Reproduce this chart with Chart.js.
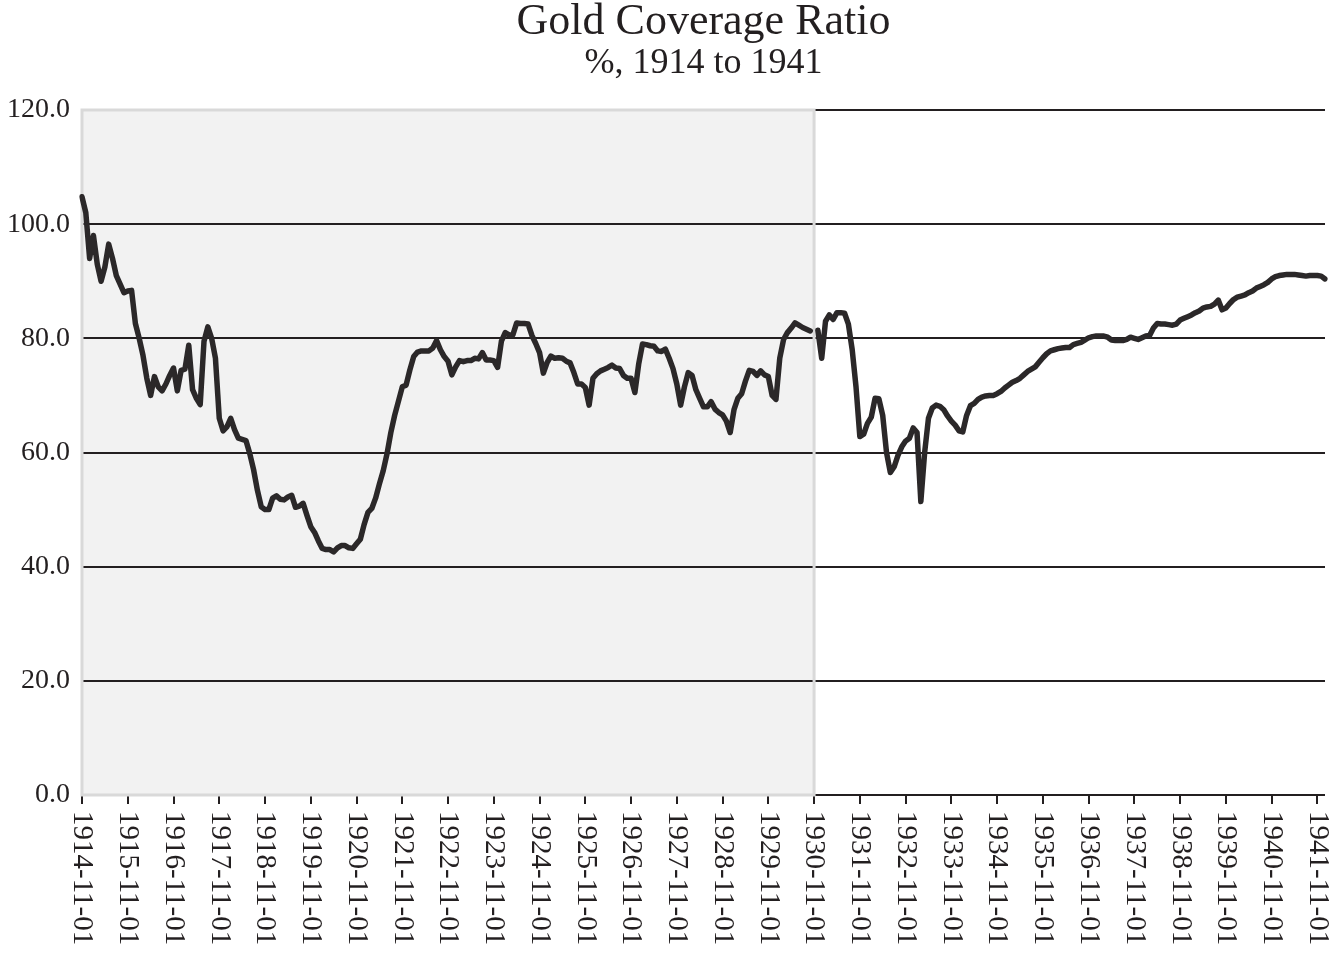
<!DOCTYPE html>
<html lang="en">
<head>
    <meta charset="UTF-8">
    <title>Gold Coverage Ratio</title>
    <style>
        body {
            margin: 0;
            padding: 0;
            background-color: #fff;
        }
        #chart-box {
            width: 1336px;
            height: 953px;
        }
    </style>
</head>
<body>
<div id="chart-box">
    <canvas id="gold-chart" width="1336" height="953"></canvas>
</div>
<script src="https://cdn.jsdelivr.net/npm/chart.js"></script>
<script>
    const titleText = 'Gold Coverage Ratio';
    const subtitleText = '%, 1914 to 1941';

    // monthly, Nov 1914 .. Jan 1942 (one row per year starting in November)
    const coverage = [
        104.8, 102.0, 94.0, 98.0, 93.0, 90.0, 92.5, 96.5, 94.0, 91.0, 89.5, 88.0,
        88.3, 88.4, 82.6, 80.0, 77.0, 73.0, 70.0, 73.3, 71.5, 70.8, 72.0, 73.5,
        74.8, 70.8, 74.4, 74.6, 78.8, 71.0, 69.5, 68.4, 79.5, 82.0, 80.0, 76.5,
        66.0, 63.8, 64.5, 66.0, 64.0, 62.5, 62.3, 62.1, 59.8, 57.0, 53.4, 50.5,
        50.0, 50.0, 52.0, 52.4, 51.8, 51.7, 52.2, 52.5, 50.4, 50.6, 51.1, 49.0,
        47.0, 46.0, 44.5, 43.2, 43.0, 43.0, 42.6, 43.3, 43.7, 43.7, 43.3, 43.2,
        44.0, 44.8, 47.4, 49.5, 50.2, 52.0, 54.5, 56.8, 59.8, 63.5, 66.5, 69.0,
        71.5, 71.8, 74.5, 76.8, 77.6, 77.8, 77.8, 77.8, 78.3, 79.6, 78.0, 76.8,
        76.0, 73.6, 75.0, 76.1, 75.9, 76.1, 76.1, 76.5, 76.4, 77.5, 76.2, 76.2,
        76.1, 74.9, 79.5, 81.0, 80.6, 80.6, 82.7, 82.6, 82.6, 82.5, 80.5, 79.1,
        77.5, 73.9, 75.8, 76.9, 76.5, 76.6, 76.5, 76.0, 75.7, 74.0, 72.0, 72.0,
        71.4, 68.3, 73.0, 73.8, 74.3, 74.6, 74.9, 75.3, 74.8, 74.7, 73.5, 73.0,
        73.0, 70.5, 75.5, 79.0, 78.9, 78.7, 78.6, 77.8, 77.7, 78.1, 76.5, 74.7,
        72.0, 68.3, 71.5, 74.0, 73.5, 71.0, 69.5, 68.0, 68.0, 68.9, 67.6, 67.0,
        66.6, 65.5, 63.5, 67.5, 69.5, 70.3, 72.5, 74.4, 74.2, 73.5, 74.3, 73.6,
        73.3, 70.0, 69.3, 76.5, 79.8, 81.0, 81.8, 82.7, 82.3, 81.9, 81.6, 81.3,
        null, 81.4, 76.5, 83.0, 84.1, 83.3, 84.5, 84.5, 84.4, 82.5, 78.0, 71.5,
        62.8, 63.2, 65.1, 66.2, 69.5, 69.4, 66.5, 60.0, 56.5, 57.5, 59.5, 61.0,
        62.0, 62.5, 64.3, 63.5, 51.4, 60.0, 66.0, 67.8, 68.3, 68.1, 67.5, 66.4,
        65.5, 64.8, 63.8, 63.6, 66.5, 68.2, 68.6, 69.3, 69.7, 69.9, 70.0, 70.0,
        70.3, 70.7, 71.3, 71.8, 72.3, 72.6, 73.0, 73.6, 74.2, 74.6, 75.0, 75.8,
        76.6, 77.3, 77.8, 78.0, 78.2, 78.3, 78.4, 78.4, 78.9, 79.1, 79.3, 79.7,
        80.1, 80.3, 80.4, 80.4, 80.4, 80.2, 79.7, 79.6, 79.6, 79.6, 79.8, 80.2,
        80.0, 79.8, 80.1, 80.4, 80.5, 81.8, 82.6, 82.5, 82.5, 82.4, 82.3, 82.5,
        83.2, 83.5, 83.8, 84.1, 84.5, 84.8, 85.3, 85.5, 85.6, 86.0, 86.7, 85.0,
        85.3, 86.1, 86.8, 87.2, 87.4, 87.6, 88.0, 88.3, 88.8, 89.1, 89.4, 89.8,
        90.4, 90.8, 91.0, 91.1, 91.2, 91.2, 91.2, 91.1, 91.0, 90.9, 91.0, 91.0,
        91.0, 90.9, 90.4
    ];

    const yTicks = [0, 20, 40, 60, 80, 100, 120];
    const shadeFrom = '1914-11-01';
    const shadeTo = '1930-11-01';

    // month labels like 1914-11-01
    const months = [];
    for (let i = 0; i < coverage.length; i++) {
        const m = 10 + i;
        const year = 1914 + Math.floor(m / 12);
        const month = (m % 12) + 1;
        months.push(year + '-' + String(month).padStart(2, '0') + '-01');
    }

    const ink = '#231f20';
    const serif = '"Liberation Serif", "DejaVu Serif", serif';

    const shadePlugin = {
        id: 'shade',
        beforeDraw(chart) {
            const { ctx, chartArea, scales } = chart;
            const x0 = scales.x.getPixelForValue(months.indexOf(shadeFrom));
            const x1 = scales.x.getPixelForValue(months.indexOf(shadeTo));
            ctx.save();
            ctx.fillStyle = '#f2f2f2';
            ctx.fillRect(x0, chartArea.top, x1 - x0, chartArea.bottom - chartArea.top);
            ctx.restore();
        },
        beforeDatasetsDraw(chart) {
            const { ctx, chartArea, scales } = chart;
            const x0 = scales.x.getPixelForValue(months.indexOf(shadeFrom));
            const x1 = scales.x.getPixelForValue(months.indexOf(shadeTo));
            ctx.save();
            ctx.strokeStyle = '#d9d9d9';
            ctx.lineWidth = 3;
            ctx.strokeRect(x0, chartArea.top, x1 - x0, chartArea.bottom - chartArea.top);
            ctx.restore();
        }
    };

    // titles centred over the plot area, rotated x labels reading top to bottom
    const textPlugin = {
        id: 'texts',
        afterDraw(chart) {
            const { ctx, scales, chartArea } = chart;
            const xs = scales.x;
            const mid = (chartArea.left + chartArea.right) / 2;
            ctx.save();
            ctx.fillStyle = ink;
            ctx.textAlign = 'center';
            ctx.textBaseline = 'alphabetic';
            ctx.font = '44px ' + serif;
            ctx.fillText(titleText, mid, 34);
            ctx.font = '36px ' + serif;
            ctx.fillText(subtitleText, mid, 73);

            ctx.font = '29px ' + serif;
            ctx.textAlign = 'left';
            ctx.textBaseline = 'middle';
            months.forEach((label, i) => {
                if (i % 12 !== 0) return;
                const x = xs.getPixelForValue(i);
                ctx.save();
                ctx.translate(x, xs.top + 16);
                ctx.rotate(Math.PI / 2);
                ctx.fillText(label, 0, 0);
                ctx.restore();
            });
            ctx.restore();
        }
    };

    new Chart(document.getElementById('gold-chart'), {
        type: 'line',
        data: {
            labels: months,
            datasets: [{
                data: coverage,
                borderColor: '#2b2829',
                borderWidth: 5.5,
                borderCapStyle: 'round',
                borderJoinStyle: 'round',
                pointRadius: 0,
                tension: 0,
                spanGaps: false,
                fill: false
            }]
        },
        options: {
            responsive: false,
            animation: false,
            devicePixelRatio: 1,
            layout: {
                padding: { left: 7, right: 11, top: 110, bottom: 149 }
            },
            plugins: {
                legend: { display: false },
                tooltip: { enabled: false },
                title: { display: false },
                subtitle: { display: false }
            },
            scales: {
                x: {
                    type: 'category',
                    offset: false,
                    border: { display: false },
                    grid: {
                        offset: false,
                        drawOnChartArea: false,
                        drawTicks: true,
                        tickLength: 9,
                        lineWidth: 2,
                        color: c => (c.index % 12 === 0 ? ink : 'rgba(0,0,0,0)')
                    },
                    ticks: { display: false, autoSkip: false }
                },
                y: {
                    min: 0,
                    max: 120,
                    border: { display: false },
                    afterBuildTicks: axis => {
                        axis.ticks = yTicks.map(v => ({ value: v }));
                    },
                    afterFit: axis => {
                        axis.width = 75;
                    },
                    grid: {
                        color: ink,
                        lineWidth: 2,
                        drawTicks: false
                    },
                    ticks: {
                        color: ink,
                        padding: 12,
                        font: { family: serif, size: 28 },
                        callback: v => v.toFixed(1)
                    }
                }
            }
        },
        plugins: [shadePlugin, textPlugin]
    });
</script>
</body>
</html>
